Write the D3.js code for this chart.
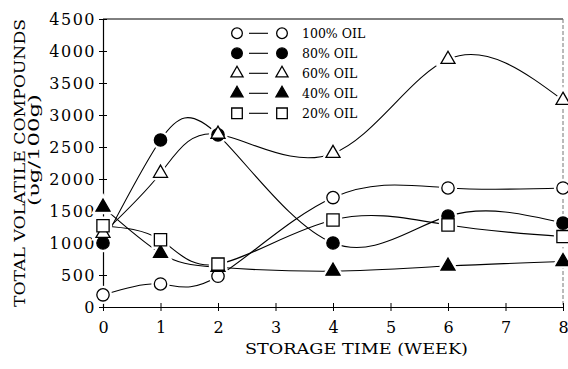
<!DOCTYPE html>
<html><head><meta charset="utf-8">
<script src="https://cdn.jsdelivr.net/npm/d3@7"></script>
<style>
body{margin:0;background:#fff}
svg{display:block}
text{font-family:"DejaVu Serif",serif;fill:#000}
</style></head>
<body><svg id="c" width="568" height="369"></svg>
<script>
// ---- data ----
const weeks = [0, 1, 2, 4, 6, 8];
const xTicks = [0, 1, 2, 3, 4, 5, 6, 7, 8];
const yTicks = [0, 500, 1000, 1500, 2000, 2500, 3000, 3500, 4000, 4500];
const seriesNames = ["100% OIL", "80% OIL", "60% OIL", "40% OIL", "20% OIL"];
const oil100 = [190, 360, 480, 1710, 1860, 1860];
const oil80  = [1000, 2610, 2690, 1000, 1420, 1310];
const oil60  = [1150, 2090, 2700, 2400, 3870, 3230];
const oil40  = [1560, 840, 620, 560, 640, 710];
const oil20  = [1270, 1050, 670, 1360, 1280, 1100];
const xTitle = "STORAGE TIME (WEEK)";
const yTitle1 = "TOTAL VOLATILE COMPOUNDS";
const yTitle2 = "(υg/100g)";

// ---- styles ----
const seriesValues = [oil100, oil80, oil60, oil40, oil20];
const symTypes = [d3.symbolCircle, d3.symbolCircle, d3.symbolTriangle, d3.symbolTriangle, d3.symbolSquare];
const symSizes = [120, 120, 85, 85, 150];
const symFills = ["#fff", "#000", "#fff", "#000", "#fff"];

const svg = d3.select("#c");
const x = d3.scaleLinear().domain([0, 8]).range([103, 563]);
const y = d3.scaleLinear().domain([0, 4500]).range([307, 19]);

// frame: top and right
svg.append("line").attr("x1", x(0)).attr("x2", x(8)).attr("y1", y(4500)).attr("y2", y(4500))
  .attr("stroke", "#000").attr("stroke-width", 1);
svg.append("line").attr("x1", x(8)).attr("x2", x(8)).attr("y1", y(4500)).attr("y2", y(0))
  .attr("stroke", "#777").attr("stroke-width", 1).attr("stroke-dasharray", "4,2");

// axes
const gy = svg.append("g").attr("transform", `translate(${x(0)},0)`)
  .call(d3.axisLeft(y).tickValues(yTicks).tickFormat(d3.format("d")).tickSize(4).tickSizeOuter(0).tickPadding(3));
gy.selectAll(".tick line").attr("x1", 4).attr("x2", -4);
gy.selectAll(".tick text").style("font-family", "DejaVu Serif").style("font-size", "16px")
  .style("letter-spacing", "1.5px");

const gx = svg.append("g").attr("transform", `translate(0,${y(0)})`)
  .call(d3.axisBottom(x).tickValues(xTicks).tickFormat(d3.format("d")).tickSize(4).tickSizeOuter(0).tickPadding(11));
gx.selectAll(".tick line").attr("y1", -4).attr("y2", 4);
gx.selectAll(".tick text").style("font-family", "DejaVu Serif").style("font-size", "16px");
svg.selectAll(".domain").attr("stroke-width", 1.2);

// titles
svg.append("text").attr("x", (245 + 468) / 2).attr("y", 354).attr("text-anchor", "middle")
  .style("font-size", "15px").attr("textLength", 223).attr("lengthAdjust", "spacingAndGlyphs").text(xTitle);
svg.append("text").attr("transform", "translate(25,163) rotate(-90)").attr("text-anchor", "middle")
  .style("font-size", "15px").attr("textLength", 288).attr("lengthAdjust", "spacingAndGlyphs").text(yTitle1);
svg.append("text").attr("transform", "translate(39,150) rotate(-90)").attr("text-anchor", "middle")
  .style("font-size", "14px").attr("textLength", 112).attr("lengthAdjust", "spacingAndGlyphs").text(yTitle2);

// lines
const line = d3.line().x((d, i) => x(weeks[i])).y(d => y(d)).curve(d3.curveNatural);
seriesValues.forEach(vals => {
  svg.append("path").attr("d", line(vals)).attr("fill", "none").attr("stroke", "#000").attr("stroke-width", 1.1);
});

// markers: halos first, then markers
seriesValues.forEach((vals, s) => {
  svg.selectAll(null).data(vals).enter().append("path")
    .attr("d", d3.symbol().type(symTypes[s]).size(symSizes[s]))
    .attr("transform", (d, i) => `translate(${x(weeks[i])},${y(d)})`)
    .attr("fill", "#fff").attr("stroke", "#fff").attr("stroke-width", 6);
});
seriesValues.forEach((vals, s) => {
  svg.selectAll(null).data(vals).enter().append("path")
    .attr("d", d3.symbol().type(symTypes[s]).size(symSizes[s]))
    .attr("transform", (d, i) => `translate(${x(weeks[i])},${y(d)})`)
    .attr("fill", symFills[s]).attr("stroke", "#000").attr("stroke-width", 1.3);
});

// legend
const lg = svg.append("g");
seriesNames.forEach((name, s) => {
  const cy = 33.3 + s * 20;
  lg.append("line").attr("x1", 249).attr("x2", 268).attr("y1", cy).attr("y2", cy)
    .attr("stroke", "#000").attr("stroke-width", 1.1);
  [237, 282].forEach(cx => {
    lg.append("path").attr("d", d3.symbol().type(symTypes[s]).size(symSizes[s] * 0.75))
      .attr("transform", `translate(${cx},${cy})`)
      .attr("fill", symFills[s]).attr("stroke", "#000").attr("stroke-width", 1.3);
  });
  lg.append("text").attr("x", 302).attr("y", cy + 4.5).style("font-size", "12.5px").text(name);
});
</script>
</body></html>
